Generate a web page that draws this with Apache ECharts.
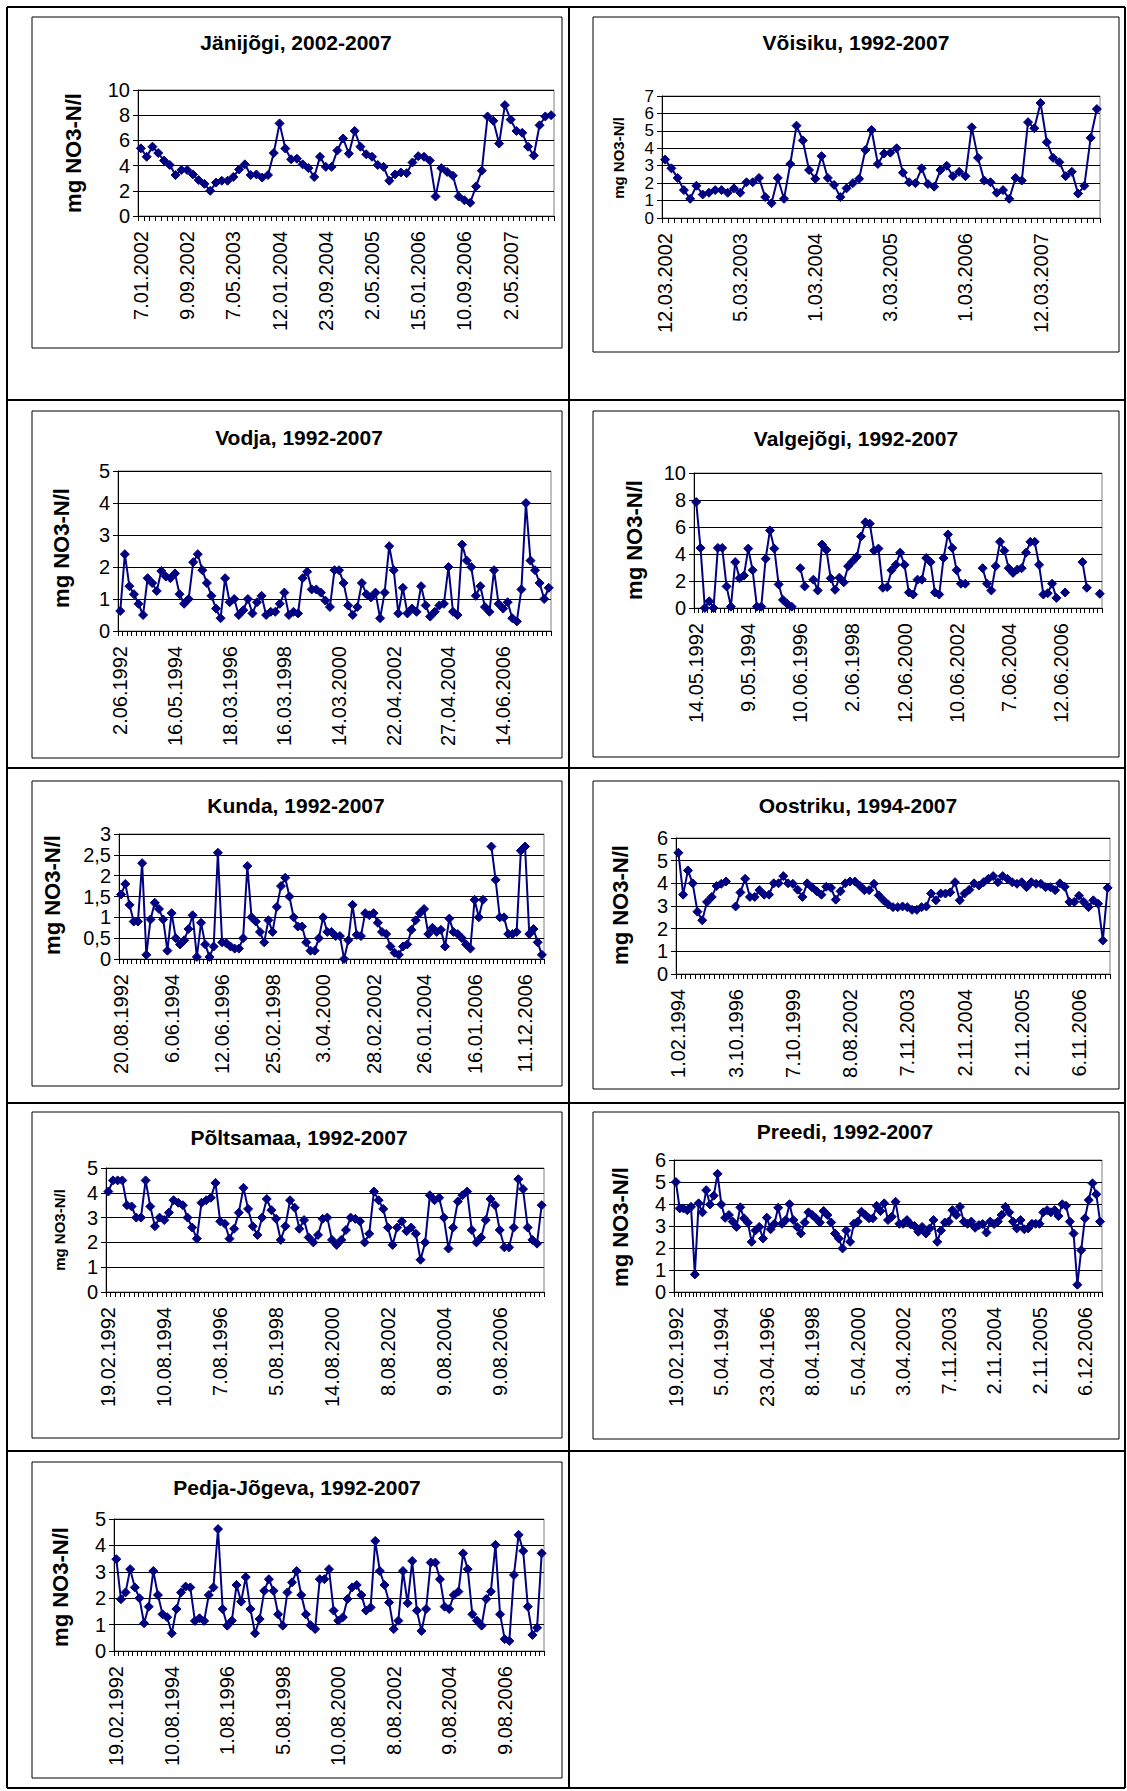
<!DOCTYPE html>
<html>
<head>
<meta charset="utf-8">
<script src="https://cdn.jsdelivr.net/npm/echarts@6/dist/echarts.min.js"></script>
<style>
html,body{margin:0;padding:0;background:#fff;}
#chart{width:1127px;height:1791px;}
</style>
</head>
<body>
<div id="chart"></div>
<script>
// ---------------- DATA ----------------
const janijogiLabels = ['7.01.2002','9.09.2002','7.05.2003','12.01.2004','23.09.2004','2.05.2005','15.01.2006','10.09.2006','2.05.2007'];
const janijogiValues = [5.37,4.7,5.5,5.0,4.4,4.05,3.25,3.65,3.65,3.3,2.85,2.55,2.0,2.65,2.8,2.8,3.1,3.7,4.1,3.25,3.3,3.05,3.25,5.0,7.35,5.35,4.5,4.55,4.1,3.8,3.1,4.7,3.9,3.9,5.2,6.15,4.95,6.75,5.5,4.9,4.7,4.05,3.9,2.8,3.3,3.45,3.4,4.25,4.75,4.7,4.4,1.55,3.8,3.5,3.2,1.55,1.25,1.05,2.35,3.6,7.9,7.55,5.75,8.8,7.65,6.75,6.6,5.5,4.8,7.2,7.9,8.0];

const voisikuLabels = ['12.03.2002','5.03.2003','1.03.2004','3.03.2005','1.03.2006','12.03.2007'];
const voisikuValues = [3.35,2.85,2.3,1.6,1.1,1.85,1.35,1.45,1.6,1.6,1.45,1.7,1.45,2.05,2.05,2.3,1.2,0.85,2.3,1.1,3.1,5.3,4.45,2.75,2.25,3.55,2.3,1.9,1.2,1.7,2.0,2.25,3.9,5.05,3.1,3.7,3.75,4.0,2.6,2.05,2.0,2.85,1.95,1.8,2.75,3.0,2.4,2.65,2.4,5.2,3.45,2.15,2.05,1.45,1.6,1.1,2.3,2.15,5.5,5.15,6.6,4.35,3.45,3.2,2.4,2.65,1.4,1.85,4.6,6.25];

const vodjaLabels = ['2.06.1992','16.05.1994','18.03.1996','16.03.1998','14.03.2000','22.04.2002','27.04.2004','14.06.2006'];
const vodjaValues = [0.625,2.4,1.4,1.15,0.85,0.5,1.65,1.5,1.25,1.875,1.7,1.65,1.8,1.15,0.85,1.0,2.15,2.4,1.9,1.5,1.1,0.7,0.4,1.65,0.9,1.0,0.5,0.65,1.0,0.55,0.9,1.1,0.5,0.6,0.6,0.85,1.2,0.5,0.6,0.55,1.65,1.85,1.3,1.3,1.2,0.95,0.75,1.9,1.9,1.5,0.8,0.5,0.75,1.5,1.15,1.05,1.2,0.4,1.2,2.65,1.9,0.55,1.35,0.55,0.7,0.6,1.4,0.8,0.45,0.6,0.8,0.85,2.0,0.6,0.5,2.7,2.2,2.0,1.1,1.4,0.75,0.6,1.9,0.85,0.7,0.9,0.4,0.3,1.3,4.0,2.2,1.9,1.5,1.0,1.35];

const valgejogiLabels = ['14.05.1992','9.05.1994','10.06.1996','2.06.1998','12.06.2000','10.06.2002','7.06.2004','12.06.2006'];
const valgejogiValues = [7.85,4.45,0.0,0.5,0.0,4.45,4.45,1.6,0.1,3.4,2.2,2.4,4.4,2.8,0.1,0.1,3.65,5.75,4.4,1.75,0.6,0.3,0.1,null,2.95,1.6,null,2.1,1.3,4.7,4.3,2.2,1.35,2.25,1.9,3.1,3.45,3.8,5.3,6.35,6.25,4.25,4.4,1.5,1.55,2.8,3.2,4.1,3.2,1.15,1.0,2.1,2.1,3.7,3.4,1.15,1.0,3.7,5.45,4.45,2.8,1.8,1.8,null,null,null,2.95,1.8,1.3,3.1,4.9,4.25,2.95,2.6,2.85,2.95,4.1,4.9,4.9,3.2,1.0,1.1,1.8,0.75,null,1.15,null,null,null,3.4,1.5,null,null,1.05];

const kundaLabels = ['20.08.1992','6.06.1994','12.06.1996','25.02.1998','3.04.2000','28.02.2002','26.01.2004','16.01.2006','11.12.2006'];
const kundaValues = [1.55,1.8,1.3,0.9,0.9,2.3,0.1,0.95,1.35,1.2,0.95,0.2,1.1,0.5,0.35,0.45,0.72,1.05,0.05,0.87,0.35,0.05,0.3,2.55,0.4,0.38,0.3,0.25,0.25,0.5,2.23,1.0,0.9,0.65,0.4,0.93,0.65,1.25,1.75,1.95,1.5,1.0,0.78,0.78,0.4,0.2,0.2,0.5,1.0,0.65,0.65,0.55,0.55,0.0,0.45,1.3,0.58,0.55,1.1,1.05,1.1,0.87,0.65,0.6,0.3,0.15,0.1,0.3,0.35,0.7,0.93,1.1,1.2,0.6,0.75,0.65,0.7,0.3,0.97,0.65,0.6,0.5,0.35,0.25,1.42,1.0,1.42,null,2.7,1.9,1.0,1.0,0.6,0.6,0.65,2.6,2.7,0.6,0.72,0.4,0.1];

const oostrikuLabels = ['1.02.1994','3.10.1996','7.10.1999','8.08.2002','7.11.2003','2.11.2004','2.11.2005','6.11.2006'];
const oostrikuValues = [5.35,3.5,4.57,4.0,2.75,2.37,3.18,3.4,3.88,3.98,4.08,null,2.98,3.6,4.2,3.4,3.4,3.7,3.5,3.5,4.0,4.0,4.32,4.0,3.98,3.72,3.4,4.0,3.83,3.65,3.5,3.85,3.8,3.28,3.65,4.0,4.08,4.08,3.9,3.7,3.7,3.98,3.47,3.25,3.07,2.95,2.95,2.98,2.95,2.83,2.83,2.95,2.98,3.55,3.25,3.55,3.55,3.6,4.05,3.25,3.55,3.72,4.0,3.9,4.05,4.2,4.32,4.05,4.32,4.2,4.05,3.98,4.05,3.83,4.05,3.98,3.98,3.83,3.83,3.7,4.0,3.85,3.18,3.18,3.45,3.18,2.95,3.25,3.1,1.48,3.8];

const poltsamaaLabels = ['19.02.1992','10.08.1994','7.08.1996','5.08.1998','14.08.2000','8.08.2002','9.08.2004','9.08.2006'];
const poltsamaaValues = [4.05,4.5,4.5,4.5,3.5,3.45,3.0,3.0,4.5,3.45,2.65,3.0,2.9,3.2,3.7,3.6,3.5,3.0,2.6,2.15,3.6,3.7,3.8,4.4,2.85,2.75,2.15,2.55,3.2,4.2,3.35,2.65,2.3,3.0,3.75,3.3,2.95,2.1,2.65,3.7,3.4,2.55,2.9,2.2,2.0,2.3,2.95,3.0,2.1,1.9,2.1,2.5,3.0,2.95,2.85,2.0,2.35,4.05,3.7,3.35,2.6,1.9,2.6,2.85,2.45,2.6,2.35,1.3,2.0,3.9,3.7,3.8,3.0,1.75,2.6,3.65,3.9,4.05,2.5,2.0,2.2,2.9,3.75,3.5,2.5,1.8,1.8,2.6,4.55,4.15,2.6,2.1,1.95,3.5];

const preediLabels = ['19.02.1992','5.04.1994','23.04.1996','8.04.1998','5.04.2000','3.04.2002','7.11.2003','2.11.2004','2.11.2005','6.12.2006'];
const preediValues = [5.0,3.8,3.8,3.72,3.87,0.8,4.03,3.62,4.63,3.98,4.38,5.37,3.98,3.37,3.5,3.2,2.96,3.85,3.35,3.15,2.28,2.8,2.96,2.43,3.38,2.85,3.1,3.83,3.1,3.27,3.99,3.27,2.96,2.66,3.16,3.62,3.5,3.35,3.16,3.68,3.5,3.16,2.66,2.43,1.98,2.8,2.28,3.1,3.2,3.65,3.5,3.35,3.35,3.92,3.68,4.03,3.27,3.42,4.1,3.1,3.1,3.27,3.07,3.0,2.74,2.96,2.66,2.89,3.27,2.28,2.8,3.16,3.2,3.72,3.5,3.87,3.2,3.1,3.2,2.92,3.04,3.09,2.7,3.2,3.09,3.2,3.5,3.87,3.62,3.2,2.89,3.27,2.85,2.89,3.1,3.1,3.1,3.62,3.72,3.62,3.72,3.45,3.99,3.92,3.2,2.66,0.33,1.9,3.35,4.18,4.94,4.44,3.2];

const pedjaLabels = ['19.02.1992','10.08.1994','1.08.1996','5.08.1998','10.08.2000','8.08.2002','9.08.2004','9.08.2006'];
const pedjaValues = [3.48,1.96,2.22,3.1,2.41,2.0,1.05,1.68,3.03,2.12,1.39,1.28,0.67,1.59,2.22,2.44,2.41,1.14,1.24,1.14,2.12,2.41,4.62,1.59,0.96,1.15,2.5,1.87,2.8,1.59,0.67,1.21,2.28,2.72,2.28,1.39,0.96,2.22,2.6,3.03,2.12,1.39,0.98,0.83,2.72,2.72,3.1,1.53,1.15,1.28,1.97,2.41,2.5,2.12,1.53,1.65,4.17,3.03,2.5,1.84,0.83,1.15,3.03,1.81,3.41,1.53,0.76,1.59,3.35,3.35,2.72,1.68,1.59,2.12,2.25,3.7,3.1,1.39,1.15,0.96,1.97,2.25,4.02,1.39,0.45,0.38,2.88,4.4,3.79,1.68,0.61,0.88,3.7];

const yAxisName = 'mg NO3-N/l';

// ---------------- LAYOUT ----------------
const FONT = '"Liberation Sans", Arial, Helvetica, sans-serif';
const panels = [
  {title:'Jänijõgi, 2002-2007', labels:janijogiLabels, values:janijogiValues, step:8, yMax:10, yStep:2,
   box:[32,17,562,348], grid:[138,90,554,216], titleAt:[296,42], nameAt:[73,153], nameSize:22, yFont:20},
  {title:'Võisiku, 1992-2007', labels:voisikuLabels, values:voisikuValues, step:12, yMax:7, yStep:1,
   box:[593,17,1119,352], grid:[662,96,1100,218], titleAt:[856,42], nameAt:[618,158], nameSize:15, yFont:17},
  {title:'Vodja, 1992-2007', labels:vodjaLabels, values:vodjaValues, step:12, yMax:5, yStep:1,
   box:[32,411,562,758], grid:[118,471,551,631], titleAt:[299,437], nameAt:[61,548], nameSize:22, yFont:20},
  {title:'Valgejõgi, 1992-2007', labels:valgejogiLabels, values:valgejogiValues, step:12, yMax:10, yStep:2,
   box:[593,411,1119,757], grid:[694,473,1102,608], titleAt:[856,438], nameAt:[634,540], nameSize:22, yFont:20},
  {title:'Kunda, 1992-2007', labels:kundaLabels, values:kundaValues, step:12, yMax:3, yStep:0.5, comma:true,
   box:[32,781,562,1086], grid:[119,834,544,959], titleAt:[296,805], nameAt:[52,895], nameSize:22, yFont:20},
  {title:'Oostriku, 1994-2007', labels:oostrikuLabels, values:oostrikuValues, step:12, yMax:6, yStep:1,
   box:[593,781,1119,1089], grid:[676,838,1110,974], titleAt:[858,805], nameAt:[620,905], nameSize:22, yFont:20},
  {title:'Põltsamaa, 1992-2007', labels:poltsamaaLabels, values:poltsamaaValues, step:12, yMax:5, yStep:1,
   box:[32,1112,562,1438], grid:[106,1168,544,1292], titleAt:[299,1137], nameAt:[59,1230], nameSize:15, yFont:20},
  {title:'Preedi, 1992-2007', labels:preediLabels, values:preediValues, step:12, yMax:6, yStep:1,
   box:[593,1112,1119,1439], grid:[674,1160,1102,1292], titleAt:[845,1131], nameAt:[620,1227], nameSize:22, yFont:20},
  {title:'Pedja-Jõgeva, 1992-2007', labels:pedjaLabels, values:pedjaValues, step:12, yMax:5, yStep:1,
   box:[32,1462,562,1778], grid:[114,1519,544,1651], titleAt:[297,1487], nameAt:[60,1587], nameSize:22, yFont:20}
];

const NAVY = '#000080';

const grids = [], xAxes = [], yAxes = [], series = [], graphics = [];

// table lines
const tableLines = [
  [7,7,1125,7],[7,400,1125,400],[7,768,1125,768],[7,1103,1125,1103],[7,1451,1125,1451],[7,1788,1125,1788],
  [7,7,7,1788],[569,7,569,1788],[1125,7,1125,1788]
];
tableLines.forEach(l => graphics.push({type:'line', shape:{x1:l[0],y1:l[1],x2:l[2],y2:l[3]}, style:{stroke:'#000', lineWidth:2}, z:0}));

panels.forEach((p, i) => {
  const [gl, gt, gr, gb] = p.grid;
  grids.push({left:gl, top:gt, width:gr-gl, height:gb-gt, show:true, borderColor:'#808080', borderWidth:1, backgroundColor:'#fff', containLabel:false});
  const cats = p.values.map((v, k) => (k % p.step === 0 && p.labels[k / p.step] !== undefined) ? p.labels[k / p.step] : '');
  xAxes.push({
    type:'category', gridIndex:i, data:cats, boundaryGap:true,
    axisLine:{show:true, onZero:false, lineStyle:{color:'#000', width:1}},
    axisTick:{show:true, interval:0, length:5, inside:false, lineStyle:{color:'#000', width:1}},
    axisLabel:{show:true, interval:p.step-1, rotate:90, margin:15, fontSize:20, color:'#000', fontFamily:FONT},
    splitLine:{show:false}
  });
  yAxes.push({
    type:'value', gridIndex:i, min:0, max:p.yMax, interval:p.yStep,
    axisLine:{show:true, lineStyle:{color:'#000', width:1}},
    axisTick:{show:true, length:5, inside:false, lineStyle:{color:'#000', width:1}},
    axisLabel:{show:true, margin:8, fontSize:p.yFont, color:'#000', fontFamily:FONT,
      showMinLabel:true, showMaxLabel:true, hideOverlap:false,
      formatter: p.comma ? (v => String(v).replace('.', ',')) : (v => String(v))},
    splitLine:{show:true, lineStyle:{color:'#000', width:1}}
  });
  series.push({
    type:'line', xAxisIndex:i, yAxisIndex:i, data:p.values,
    symbol:'diamond', symbolSize:9, showSymbol:true, showAllSymbol:true,
    connectNulls:false, animation:false,
    lineStyle:{color:NAVY, width:2}, itemStyle:{color:NAVY, borderColor:NAVY}
  });
  const [bl, bt, br, bb] = p.box;
  graphics.push({type:'rect', shape:{x:bl, y:bt, width:br-bl, height:bb-bt}, style:{fill:'#fff', stroke:'#000', lineWidth:1}, z:-10, silent:true});
  graphics.push({type:'text', x:p.titleAt[0], y:p.titleAt[1], style:{text:p.title, font:'bold 21px ' + FONT, fill:'#000', textAlign:'center', textVerticalAlign:'middle', align:'center', verticalAlign:'middle'}, z:10});
  graphics.push({type:'text', x:p.nameAt[0], y:p.nameAt[1], rotation:Math.PI/2, style:{text:yAxisName, font:'bold ' + p.nameSize + 'px ' + FONT, fill:'#000', textAlign:'center', textVerticalAlign:'middle', align:'center', verticalAlign:'middle'}, z:10});
});

const chart = echarts.init(document.getElementById('chart'), null, {renderer:'svg', width:1127, height:1791});
chart.setOption({
  backgroundColor:'#fff',
  animation:false,
  grid:grids, xAxis:xAxes, yAxis:yAxes, series:series,
  graphic:{elements:graphics}
});
</script>
</body>
</html>
